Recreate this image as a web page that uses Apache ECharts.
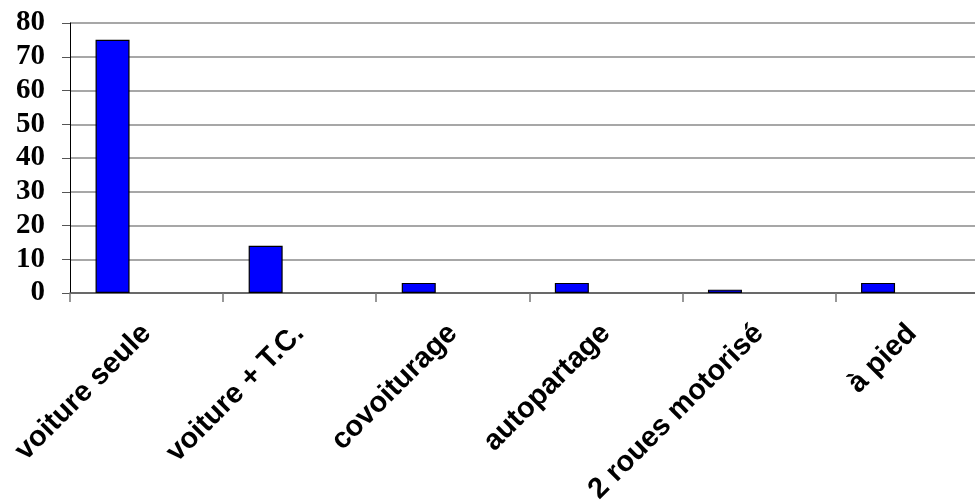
<!DOCTYPE html>
<html><head><meta charset="utf-8">
<script src="https://cdn.jsdelivr.net/npm/echarts@6/dist/echarts.min.js"></script>
<style>html,body{margin:0;padding:0;background:#fff;overflow:hidden;width:975px;height:500px}#c{width:990px;height:500px}</style>
</head><body><div id="c"></div>
<script>
const categories = ['voiture seule', 'voiture + T.C.', 'covoiturage', 'autopartage', '2 roues motorisé', 'à pied'];
const values = [75, 14, 3, 3, 1, 3];
const emptySeries = [null, null, null, null, null, null];
const yTicks = { min: 0, max: 80, interval: 10 };

const chart = echarts.init(document.getElementById('c'), null, { renderer: 'canvas' });
const barStyle = { color: '#0000FF', borderColor: '#000', borderWidth: 1.2 };
chart.setOption({
  animation: false,
  grid: { left: 70, top: 23, width: 918.6, height: 270, containLabel: false, outerBoundsMode: 'none' },
  xAxis: {
    type: 'category', data: categories,
    axisLine: { lineStyle: { color: '#555', width: 1.5 } },
    axisTick: { show: true, length: 9, lineStyle: { color: '#777', width: 1.5 } },
    axisLabel: { rotate: 45, interval: 0, margin: 36, fontFamily: 'Liberation Sans', fontWeight: 'bold', fontSize: 29, color: '#000' }
  },
  yAxis: {
    type: 'value', min: yTicks.min, max: yTicks.max, interval: yTicks.interval,
    axisLine: { show: true, lineStyle: { color: '#000', width: 1 } },
    axisTick: { show: true, length: 8, lineStyle: { color: '#555' } },
    splitLine: { lineStyle: { color: '#8a8a8a', width: 1.5 } },
    axisLabel: { margin: 25, fontFamily: 'Liberation Serif', fontWeight: 'bold', fontSize: 29, color: '#000' }
  },
  series: [
    { type: 'bar', data: values, barWidth: 34, barGap: '0%', itemStyle: barStyle },
    { type: 'bar', data: emptySeries, barWidth: 34, barGap: '0%', itemStyle: barStyle },
    { type: 'bar', data: emptySeries, barWidth: 34, barGap: '0%', itemStyle: barStyle }
  ]
});
</script></body></html>
